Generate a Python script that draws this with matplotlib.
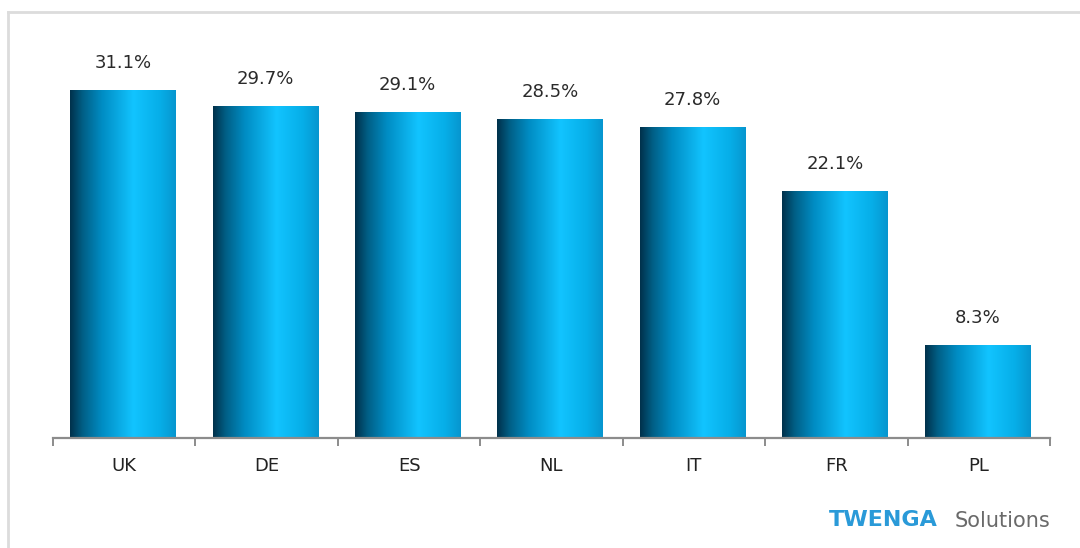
import numpy as np
import matplotlib
matplotlib.use("Agg")
import matplotlib.pyplot as plt
from matplotlib.colors import LinearSegmentedColormap
from matplotlib.lines import Line2D

countries = ["UK", "DE", "ES", "NL", "IT", "FR", "PL"]
shares = [31.1, 29.7, 29.1, 28.5, 27.8, 22.1, 8.3]

W, H = 1080, 548
fig = plt.figure(figsize=(W / 100, H / 100), dpi=100)
fig.patch.set_facecolor("white")

# light frame on left and top
fig.add_artist(Line2D([8 / W, 8 / W], [0, 1 - 12 / H], color="#dcdcdc", lw=2))
fig.add_artist(Line2D([8 / W, 1], [1 - 12 / H, 1 - 12 / H], color="#dcdcdc", lw=2))

ax = fig.add_axes([53 / W, (H - 438) / H, 997 / W, 398 / H])

cmap = LinearSegmentedColormap.from_list("cyl", [
    (0.0, "#00314b"), (0.12, "#015f86"), (0.3, "#008cc3"),
    (0.6, "#12c4ff"), (0.85, "#06aee8"), (1.0, "#0796cf")])
grad = np.linspace(0, 1, 256).reshape(1, -1)

x = np.arange(len(countries))
width = 0.74
bars = ax.bar(x - 0.01, shares, width, color="none", edgecolor="none", zorder=2)
for b, v in zip(bars, shares):
    x0 = b.get_x()
    im = ax.imshow(grad, cmap=cmap, aspect="auto", extent=[x0, x0 + width, 0, v],
                   zorder=2, interpolation="bilinear")
    im.set_clip_path(b)
    ax.text(b.get_x() + width / 2, v + 1.6, f"{v:.1f}%", ha="center", va="bottom",
            fontsize=13, color="#2a2a2a")
ax.set_xlim(-0.5, len(countries) - 0.5)
ax.set_ylim(0, 35.57)

for s in ["top", "right", "left"]:
    ax.spines[s].set_visible(False)
ax.spines["bottom"].set_color("#8c8c8c")
ax.spines["bottom"].set_linewidth(1.6)
ax.set_yticks([])
ax.set_xticks(x)
ax.set_xticklabels(countries, fontsize=13, color="#222222")
ax.tick_params(axis="x", which="major", length=0, pad=14)
ax.set_xticks(np.arange(-0.5, len(countries)), minor=True)
ax.tick_params(axis="x", which="minor", length=6, width=1.4, color="#8c8c8c", direction="out")

fig.text(938 / W, 1 - 520 / H, "TWENGA", color="#2a9ad8", fontsize=16, fontweight="bold",
         ha="right", va="center")
fig.text(1050 / W, 1 - 521 / H, "Solutions", color="#6a6a6a", fontsize=15,
         ha="right", va="center")

fig.savefig("out.png", dpi=100)
